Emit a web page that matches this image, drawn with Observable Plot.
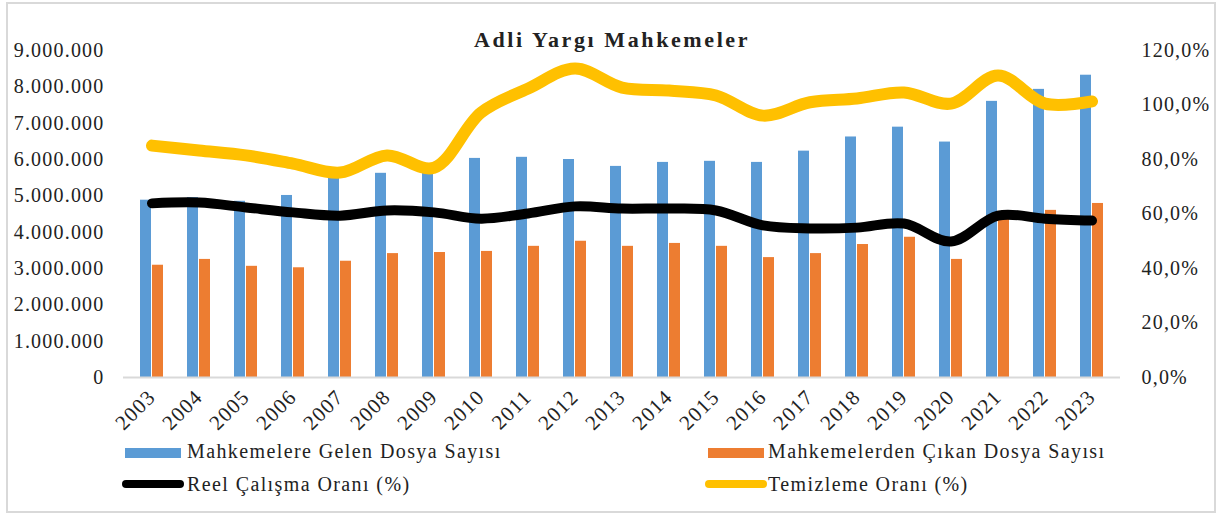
<!DOCTYPE html>
<html>
<head>
<meta charset="utf-8">
<script src="https://cdn.jsdelivr.net/npm/d3@7"></script>
<script src="https://cdn.jsdelivr.net/npm/@observablehq/plot@0.6"></script>
<style>
  html, body { margin: 0; padding: 0; background: #fff; }
  #wrap { position: relative; width: 1221px; height: 514px; overflow: hidden; font-family: "Liberation Serif", "Times New Roman", serif; color: #222; }
  #frame { position: absolute; left: 6px; top: 2px; width: 1206px; height: 507px; border: 2px solid #d9d9d9; }
  #title { position: absolute; left: 0; top: 27px; width: 1224px; text-align: center; font-weight: bold; font-size: 22px; letter-spacing: 2.6px; }
  #chart { position: absolute; left: 0; top: 0; }
  .lg { position: absolute; font-size: 20px; letter-spacing: 1.4px; white-space: nowrap; }
  .sw { position: absolute; }
</style>
</head>
<body>
<div id="wrap">
  <div id="frame"></div>
  <div id="chart"></div>
  <div id="title">Adli Yargı Mahkemeler</div>
  <div id="legend"></div>
</div>
<script>
const years = ["2003","2004","2005","2006","2007","2008","2009","2010","2011","2012","2013","2014","2015","2016","2017","2018","2019","2020","2021","2022","2023"];
const gelen = [4880000,4950000,4850000,5010000,5480000,5620000,5750000,6030000,6060000,6000000,5810000,5920000,5950000,5920000,6230000,6620000,6890000,6480000,7600000,7930000,8320000];
const cikan = [3090000,3250000,3060000,3020000,3200000,3410000,3440000,3470000,3610000,3750000,3610000,3690000,3610000,3300000,3410000,3660000,3860000,3250000,4380000,4600000,4790000];
const reel = [63.9,64.2,62.4,60.6,59.4,61.3,60.6,58.3,60.2,62.8,62.0,62.0,61.3,55.8,54.7,55.0,56.5,49.9,59.4,58.3,57.6];
const temiz = [85.1,83.3,81.5,78.5,75.2,81.5,77.0,97.2,106.0,113.4,106.4,105.3,103.5,96.1,101.0,102.4,104.6,100.5,110.8,100.5,101.3];
const leftTicks = [0,1000000,2000000,3000000,4000000,5000000,6000000,7000000,8000000,9000000];
const rightTicks = [0,20,40,60,80,100,120];
const seriesNames = ["Mahkemelere Gelen Dosya Sayısı","Mahkemelerden Çıkan Dosya Sayısı","Reel Çalışma Oranı (%)","Temizleme Oranı (%)"];
const colors = ["#5b9bd5","#ed7d31","#000000","#ffc000"];

const K = 9000000 / 120; // percent -> left units
const rows = years.map((y, i) => ({year: y, gelen: gelen[i], cikan: cikan[i], reel: reel[i], temiz: temiz[i]}));

const fmtN = d => d3.format(",")(d).replace(/,/g, ".");
const fmtP = d => (d / K).toFixed(1).replace(".", ",") + "%";

const chart = Plot.plot({
  width: 1221,
  height: 440,
  marginTop: 50,
  marginBottom: 63,
  marginLeft: 123,
  marginRight: 101,
  style: {fontFamily: "'Liberation Serif', 'Times New Roman', serif", fontSize: "20px", letterSpacing: "1.2px", color: "#222", background: "transparent"},
  x: {type: "band", domain: years, paddingInner: 0.474, paddingOuter: 0.237},
  y: {domain: [0, 9000000]},
  marks: [
    Plot.barY(rows, {x: "year", y: "gelen", fill: colors[0], insetLeft: 1, insetRight: 13}),
    Plot.barY(rows, {x: "year", y: "cikan", fill: colors[1], insetLeft: 13, insetRight: 1}),
    Plot.ruleY([0], {stroke: "#d9d9d9", strokeWidth: 2}),
    Plot.line(rows, {x: "year", y: d => d.reel * K, stroke: colors[2], strokeWidth: 10, curve: "catmull-rom", strokeLinecap: "round", strokeLinejoin: "round"}),
    Plot.line(rows, {x: "year", y: d => d.temiz * K, stroke: colors[3], strokeWidth: 12, curve: "catmull-rom", strokeLinecap: "round", strokeLinejoin: "round"}),
    Plot.axisY({anchor: "left", ticks: leftTicks, tickFormat: fmtN, tickSize: 0, tickPadding: 19, label: null}),
    Plot.axisY({anchor: "right", ticks: rightTicks.map(p => p * K), tickFormat: fmtP, tickSize: 0, tickPadding: 21, label: null}),
    Plot.axisX({tickRotate: -45, tickSize: 0, tickPadding: 16, fontSize: 21, label: null})
  ]
});
document.getElementById("chart").appendChild(chart);

// legend
const lg = document.getElementById("legend");
const items = [
  {name: seriesNames[0], color: colors[0], type: "rect", sx: 125, sy: 448, tx: 187, ty: 440},
  {name: seriesNames[1], color: colors[1], type: "rect", sx: 708, sy: 448, tx: 768, ty: 440},
  {name: seriesNames[2], color: colors[2], type: "line", sx: 122, sy: 480, tx: 187, ty: 473},
  {name: seriesNames[3], color: colors[3], type: "line", sx: 705, sy: 480, tx: 768, ty: 473}
];
items.forEach(it => {
  const s = document.createElement("div");
  s.className = "sw";
  s.style.left = it.sx + "px";
  s.style.top = it.sy + "px";
  s.style.background = it.color;
  if (it.type === "rect") { s.style.width = "56px"; s.style.height = "10px"; }
  else { s.style.width = "62px"; s.style.height = "8px"; s.style.borderRadius = "4px"; }
  lg.appendChild(s);
  const t = document.createElement("div");
  t.className = "lg";
  t.style.left = it.tx + "px";
  t.style.top = it.ty + "px";
  t.textContent = it.name;
  lg.appendChild(t);
});
</script>
</body>
</html>
